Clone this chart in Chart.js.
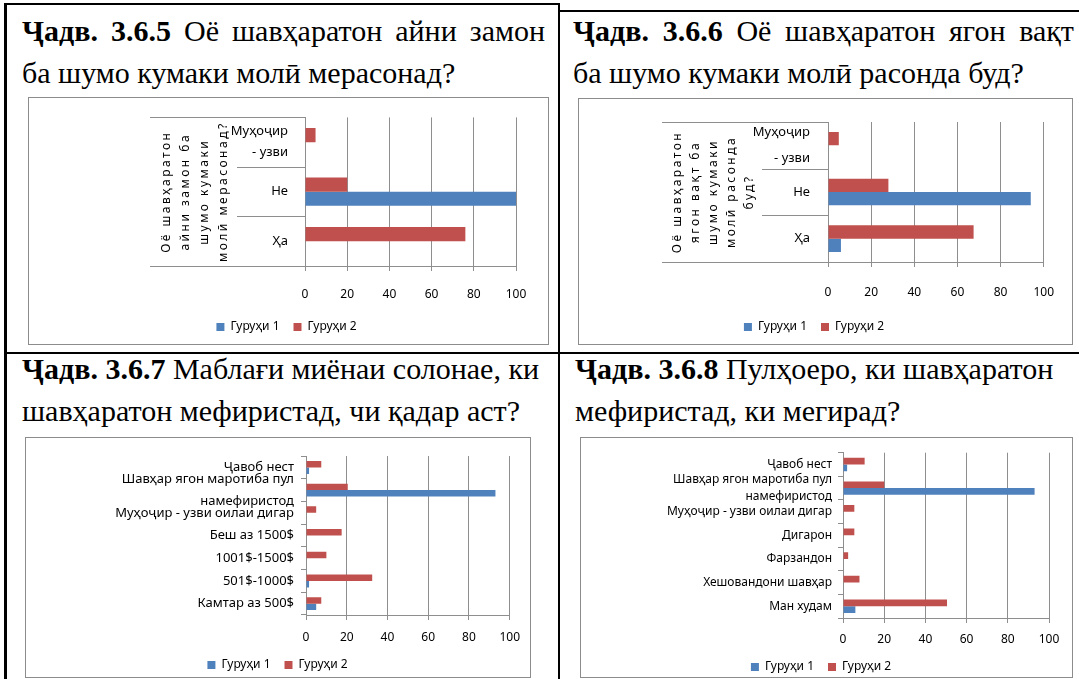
<!DOCTYPE html>
<html>
<head>
<meta charset="utf-8">
<script src="https://cdn.jsdelivr.net/npm/chart.js@4.4.1/dist/chart.umd.min.js"></script>
<style>
  html, body { margin: 0; padding: 0; background: #fff; }
  body { width: 1079px; height: 679px; position: relative; overflow: hidden; }
  .rule { position: absolute; background: #000; }
  .cap { position: absolute; font-family: 'Liberation Serif', 'Times New Roman', serif; font-size: 30px; line-height: 42px; color: #000; white-space: nowrap; }
  .cap .just { text-align: justify; text-align-last: justify; }
  .frame { position: absolute; border: 1px solid #8c8c8c; box-sizing: border-box; }
  .frame canvas { position: absolute; left: 0; top: 0; }
</style>
</head>
<body>
<div class="rule" style="left:4px;top:3px;width:556px;height:2px"></div>
<div class="rule" style="left:558px;top:10px;width:521px;height:2px"></div>
<div class="rule" style="left:4px;top:3px;width:3px;height:676px"></div>
<div class="rule" style="left:558px;top:3px;width:2px;height:676px"></div>
<div class="rule" style="left:4px;top:352px;width:1075px;height:2px"></div>

<div class="cap" style="left:22px;top:10px;width:523px">
  <div class="just"><b>Ҷадв. 3.6.5</b> Оё шавҳаратон айни замон</div>
  <div>ба шумо кумаки молӣ мерасонад?</div>
</div>
<div class="cap" style="left:573px;top:10px;width:501px">
  <div class="just"><b>Ҷадв. 3.6.6</b> Оё шавҳаратон ягон вақт</div>
  <div>ба шумо кумаки молӣ расонда буд?</div>
</div>
<div class="cap" style="left:22px;top:348px;width:523px">
  <div><b>Ҷадв. 3.6.7</b> Маблағи миёнаи солонае, ки</div>
  <div>шавҳаратон мефиристад, чи қадар аст?</div>
</div>
<div class="cap" style="left:575px;top:348px;width:501px">
  <div><b>Ҷадв. 3.6.8</b> Пулҳоеро, ки шавҳаратон</div>
  <div>мефиристад, ки мегирад?</div>
</div>

<div class="frame" style="left:28px;top:97px;width:521px;height:248px"><canvas id="c365" width="519" height="246"></canvas></div>
<div class="frame" style="left:578px;top:98px;width:495px;height:247px"><canvas id="c366" width="493" height="245"></canvas></div>
<div class="frame" style="left:25px;top:437px;width:506px;height:241px"><canvas id="c367" width="504" height="244"></canvas></div>
<div class="frame" style="left:580px;top:437px;width:493px;height:241px"><canvas id="c368" width="491" height="246"></canvas></div>

<script>
const seriesNames = ['Гуруҳи 1', 'Гуруҳи 2'];
const valueTicks = [0, 20, 40, 60, 80, 100];

// categories are listed top to bottom, as they appear in the picture
const cat365 = [['Муҳоҷир', '- узви'], 'Не', 'Ҳа'];
const g1_365 = [0, 100, 0];
const g2_365 = [5, 20, 76];
const axis365 = ['Оё шавҳаратон', 'айни замон ба', 'шумо кумаки', 'молӣ мерасонад?'];

const cat366 = [['Муҳоҷир', '- узви'], 'Не', 'Ҳа'];
const g1_366 = [0, 94, 6];
const g2_366 = [5, 28, 67.5];
const axis366 = ['Оё шавҳаратон', 'ягон вақт ба', 'шумо кумаки', 'молӣ расонда', 'буд?'];

const cat367 = ['Ҷавоб нест', ['Шавҳар ягон маротиба пул', 'намефиристод'], 'Муҳоҷир - узви оилаи дигар',
  'Беш аз 1500$', '1001$-1500$', '501$-1000$', 'Камтар аз 500$'];
const g1_367 = [1.5, 93, 0, 0, 0, 1.5, 5];
const g2_367 = [7.5, 20.5, 5, 17.5, 10, 32.5, 7.5];

const cat368 = ['Ҷавоб нест', ['Шавҳар ягон маротиба пул', 'намефиристод'], 'Муҳоҷир - узви оилаи дигар',
  'Дигарон', 'Фарзандон', 'Хешовандони шавҳар', 'Ман худам'];
const g1_368 = [2, 93, 0, 0, 0, 0, 6];
const g2_368 = [10.5, 20, 5.5, 5.5, 2.5, 8, 50.5];

const BLUE = '#4f81bd';
const RED = '#c0504d';
const GREY = '#8e8e8e';
const FONT = "'Noto Sans', 'DejaVu Sans', sans-serif";

// Excel style multi-level axis: divider lines left of the value axis
const levelLines = {
    id: 'levelLines',
    afterDraw(chart, args, opts) {
        if (!opts.outer) {
            return;
        }
        const { ctx, chartArea, scales: { y } } = chart;
        const n = chart.data.labels.length;
        ctx.save();
        ctx.strokeStyle = GREY;
        ctx.lineWidth = 1;
        for (let i = 0; i <= n; i++) {
            const py = Math.round(y.getPixelForValue(i - 0.5)) + 0.5;
            const len = (i === 0 || i === n) ? opts.outer : opts.inner;
            ctx.beginPath();
            ctx.moveTo(chartArea.left - len, py);
            ctx.lineTo(chartArea.left, py);
            ctx.stroke();
        }
        ctx.restore();
    }
};

function spacedTitle(scale) {
    if (scale._spaced) {
        return;
    }
    scale._spaced = true;
    const draw = scale.drawTitle;
    scale.drawTitle = function () {
        this.ctx.save();
        this.ctx.letterSpacing = '2.5px';
        draw.call(this);
        this.ctx.restore();
    };
}

function makeChart(id, labels, g1, g2, s) {
    return new Chart(document.getElementById(id), {
        type: 'bar',
        data: {
            labels: labels,
            datasets: [
                { label: seriesNames[0], data: g1, backgroundColor: BLUE, order: 1 },
                { label: seriesNames[1], data: g2, backgroundColor: RED, order: 0 },
            ]
        },
        options: {
            indexAxis: 'y',
            responsive: false,
            animation: false,
            categoryPercentage: 0.57,
            barPercentage: 1,
            layout: { padding: { left: s.padL, right: s.padR, top: s.padT, bottom: s.padB } },
            scales: {
                x: {
                    min: 0,
                    max: 100,
                    afterBuildTicks: (axis) => { axis.ticks = valueTicks.map(v => ({ value: v })); },
                    afterFit: (axis) => { axis.height = s.xHeight; },
                    grid: { color: GREY, tickLength: 5 },
                    border: { color: GREY },
                    ticks: { color: '#000', padding: s.xPad, font: { family: FONT, size: 12 } },
                },
                y: {
                    afterFit: (axis) => { axis.width = s.yWidth; },
                    afterUpdate: s.title ? spacedTitle : undefined,
                    grid: s.title
                        ? { display: false }
                        : { drawOnChartArea: false, tickLength: 5, color: GREY },
                    border: { color: GREY },
                    ticks: {
                        autoSkip: false,
                        color: '#000',
                        padding: s.yPad,
                        font: { family: FONT, size: s.yFont, lineHeight: s.yLine }
                    },
                    title: {
                        display: !!s.title,
                        text: s.title,
                        color: '#000',
                        font: { family: FONT, size: 12, lineHeight: s.tLine },
                        padding: { top: s.tPad },
                    }
                }
            },
            plugins: {
                tooltip: { enabled: false },
                levelLines: { outer: s.outer, inner: s.inner },
                legend: {
                    position: 'bottom',
                    labels: {
                        color: '#000',
                        boxWidth: 8,
                        boxHeight: 8,
                        padding: 14,
                        font: { family: FONT, size: 12 },
                        sort: (a, b) => a.datasetIndex - b.datasetIndex,
                    }
                }
            }
        },
        plugins: [levelLines]
    });
}

makeChart('c365', cat365, g1_365, g2_365, {
    padL: 28, padR: 32, padT: 12, padB: 1, xHeight: 41, xPad: 16, yWidth: 248, yPad: 9,
    yFont: 13, yLine: 1.6, title: axis365, tLine: 1.58, tPad: 100, outer: 155, inner: 68
});
makeChart('c366', cat366, g1_366, g2_366, {
    padL: 0, padR: 23, padT: 12, padB: 1, xHeight: 45, xPad: 18, yWidth: 249, yPad: 10,
    yFont: 13, yLine: 2.0, title: axis366, tLine: 1.5, tPad: 90, outer: 166, inner: 66
});
makeChart('c367', cat367, g1_367, g2_367, {
    padL: 13, padR: 14, padT: 5, padB: 1, xHeight: 30, xPad: 10, yWidth: 267, yPad: 7,
    yFont: 13, yLine: 1.7
});
makeChart('c368', cat368, g1_368, g2_368, {
    padL: 12, padR: 23, padT: 5, padB: 1, xHeight: 29, xPad: 9, yWidth: 250, yPad: 6,
    yFont: 12, yLine: 1.45
});
</script>
</body>
</html>
